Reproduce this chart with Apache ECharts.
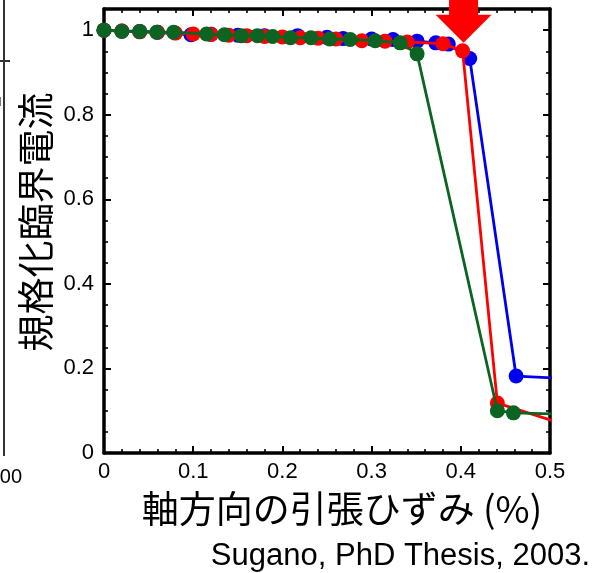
<!DOCTYPE html>
<html>
<head>
<meta charset="utf-8">
<script src="https://cdn.jsdelivr.net/npm/echarts@6/dist/echarts.min.js"></script>
<style>
  html, body { margin: 0; padding: 0; background: #fff; }
  #chart { width: 597px; height: 573px; }
</style>
</head>
<body>
<div id="chart"></div>
<script>
// Normalized critical current vs. axial tensile strain (%), three samples
const blueStrain = [0, 0.02, 0.04, 0.06, 0.0975, 0.12, 0.15, 0.18, 0.217, 0.25, 0.268, 0.30, 0.324, 0.351, 0.372, 0.386, 0.410, 0.462, 0.53];
const blueIc     = [1.0, 0.998, 0.997, 0.995, 0.989, 0.990, 0.988, 0.987, 0.987, 0.983, 0.980, 0.979, 0.978, 0.974, 0.970, 0.967, 0.933, 0.182, 0.175];

const redStrain = [0, 0.02, 0.04, 0.06, 0.08, 0.10, 0.12, 0.14, 0.16, 0.18, 0.20, 0.22, 0.24, 0.26, 0.289, 0.315, 0.34, 0.38, 0.402, 0.441, 0.53];
const redIc     = [1.0, 0.998, 0.996, 0.995, 0.993, 0.991, 0.990, 0.988, 0.987, 0.985, 0.984, 0.982, 0.981, 0.979, 0.975, 0.974, 0.972, 0.968, 0.951, 0.118, 0.058];

const greenStrain = [0, 0.02, 0.04, 0.059, 0.078, 0.115, 0.135, 0.154, 0.172, 0.189, 0.209, 0.232, 0.253, 0.276, 0.304, 0.332, 0.351, 0.441, 0.459, 0.53];
const greenIc     = [1.0, 0.997, 0.997, 0.995, 0.995, 0.991, 0.989, 0.987, 0.987, 0.985, 0.982, 0.982, 0.979, 0.978, 0.975, 0.970, 0.944, 0.100, 0.095, 0.091];

// Point marked by the arrow (onset of degradation)
const markedPoint = [0.402, 0.951];

const xLabel = '軸方向の引張ひずみ (%)';
const yLabel = '規格化臨界電流';
const credit = 'Sugano, PhD Thesis, 2003.';

const zip = (xs, ys) => xs.map((x, i) => [x, ys[i]]);

const LATIN = '"Liberation Sans", Arial, sans-serif';
const CJK = '"Noto Sans CJK JP", "Noto Sans CJK SC", sans-serif';

const chart = echarts.init(document.getElementById('chart'), null, { renderer: 'canvas' });

function frameAxis(position, isX, showLabels) {
  return {
    type: 'value',
    position: position,
    min: 0,
    max: isX ? 0.5 : 1.05,
    interval: isX ? 0.1 : 0.2,
    axisLine: { show: true, onZero: false, lineStyle: { color: '#000', width: 3.5 } },
    axisTick: { show: true, inside: true, length: 7, lineStyle: { color: '#000', width: 2 } },
    minorTick: { show: true, splitNumber: isX ? 5 : 4, length: 4, lineStyle: { color: '#000', width: 1.6 } },
    splitLine: { show: false },
    minorSplitLine: { show: false },
    axisLabel: {
      show: showLabels,
      color: '#000',
      fontFamily: LATIN,
      fontSize: 22,
      margin: isX ? 8 : 10,
      formatter: function (v) {
        if (!isX && v > 1.0001) return '';
        return String(+v.toFixed(2));
      }
    }
  };
}

function lineSeries(name, data, color, z) {
  return {
    name: name,
    type: 'line',
    data: data,
    z: z,
    clip: true,
    symbol: 'circle',
    symbolSize: 15,
    showAllSymbol: true,
    itemStyle: { color: color },
    lineStyle: { color: color, width: 2.8 },
    emphasis: { disabled: true },
    animation: false
  };
}

chart.setOption({
  backgroundColor: '#fff',
  animation: false,
  grid: { left: 104, right: 47, top: 9, bottom: 120 },
  xAxis: [frameAxis('bottom', true, true), frameAxis('top', true, false)],
  yAxis: [frameAxis('left', false, true), frameAxis('right', false, false)],
  series: [
    lineSeries('blue', zip(blueStrain, blueIc), '#0000f0', 2),
    lineSeries('red', zip(redStrain, redIc), '#ff0000', 3),
    lineSeries('green', zip(greenStrain, greenIc), '#0b6421', 4)
  ]
});

// Annotations: axis titles, credit, arrow, and the neighbouring panel's edge
const tip = chart.convertToPixel({ gridIndex: 0 }, markedPoint);
const tipY = tip[1] - 8;
const cx = tip[0] + 1;
const headH = 28, headHalf = 28, shaftHalf = 14.5;

chart.setOption({
  graphic: [
    {
      type: 'polygon',
      z: 100,
      shape: {
        points: [
          [cx - shaftHalf, 0], [cx + shaftHalf, 0],
          [cx + shaftHalf, tipY - headH], [cx + headHalf, tipY - headH],
          [cx, tipY],
          [cx - headHalf, tipY - headH], [cx - shaftHalf, tipY - headH]
        ]
      },
      style: { fill: '#ff0000' }
    },
    {
      type: 'text', x: 342, y: 509, z: 100,
      style: { text: xLabel, font: '37px ' + CJK, fill: '#000', textAlign: 'center', textVerticalAlign: 'middle' }
    },
    {
      type: 'text', x: 36, y: 222, rotation: Math.PI / 2, z: 100,
      style: { text: yLabel, font: '37px ' + CJK, fill: '#000', textAlign: 'center', textVerticalAlign: 'middle' }
    },
    {
      type: 'text', x: 590, y: 556, z: 100,
      style: { text: credit, font: '31px ' + LATIN, fill: '#000', textAlign: 'right', textVerticalAlign: 'middle' }
    },
    // edge of the adjacent panel on the left
    { type: 'line', z: 100, shape: { x1: 4, y1: 0, x2: 4, y2: 456 }, style: { stroke: '#333', lineWidth: 2 } },
    { type: 'line', z: 100, shape: { x1: 0, y1: 61, x2: 10, y2: 61 }, style: { stroke: '#333', lineWidth: 2 } },
    { type: 'line', z: 100, shape: { x1: 0.5, y1: 97, x2: 0.5, y2: 106 }, style: { stroke: '#777', lineWidth: 1 } },
    {
      type: 'text', x: 22, y: 477, z: 100,
      style: { text: '100', font: '20px ' + LATIN, fill: '#000', textAlign: 'right', textVerticalAlign: 'middle' }
    }
  ]
});
</script>
</body>
</html>
